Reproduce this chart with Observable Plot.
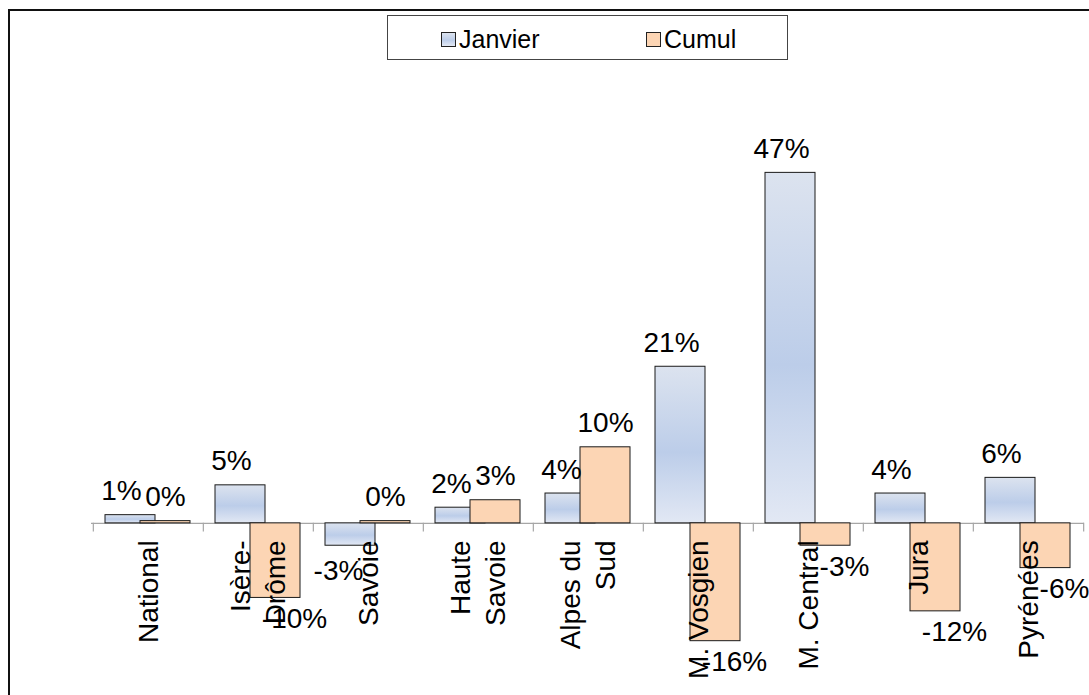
<!DOCTYPE html>
<html>
<head>
<meta charset="utf-8">
<script src="https://cdn.jsdelivr.net/npm/d3@7"></script>
<script src="https://cdn.jsdelivr.net/npm/@observablehq/plot@0.6"></script>
<style>
  html, body { margin: 0; padding: 0; background: #fff; width: 1089px; height: 695px; overflow: hidden; }
  #wrap { position: relative; width: 1089px; height: 695px; font-family: "Liberation Sans", Arial, sans-serif; }
  #chart { position: absolute; left: 0; top: 0; }
  #frame { position: absolute; left: 8px; top: 9px; width: 1200px; height: 800px; border-top: 2px solid #111; border-left: 2px solid #111; pointer-events: none; }
  #legend { position: absolute; left: 387px; top: 15px; width: 399px; height: 43px; border: 1px solid #444; background: #fff; }
  .sw { position: absolute; top: 16px; width: 13px; height: 13px; border: 1px solid #222; }
  .lt { position: absolute; top: 9px; font-size: 25px; line-height: 28px; color: #000; }
</style>
</head>
<body>
<div id="wrap">
  <div id="chart"></div>
  <div id="frame"></div>
  <div id="legend">
    <div class="sw" style="left:53px;background:linear-gradient(#dce3ef,#bccde9 55%,#e2e8f4);"></div>
    <div class="lt" style="left:71px;">Janvier</div>
    <div class="sw" style="left:258px;background:#fcd5b4;"></div>
    <div class="lt" style="left:276px;">Cumul</div>
  </div>
</div>
<script>
const categories = ["National", "Isère-Drôme", "Savoie", "Haute Savoie", "Alpes du Sud", "M. Vosgien", "M. Central", "Jura", "Pyrénées"];
const categoryLabels = ["National", "Isère-\nDrôme", "Savoie", "Haute\nSavoie", "Alpes du\nSud", "M. Vosgien", "M. Central", "Jura", "Pyrénées"];
const seriesNames = ["Janvier", "Cumul"];
const janvier = [1.1, 5.1, -3.0, 2.1, 4.0, 21.0, 47.0, 4.0, 6.1];
const cumul = [0.3, -10.0, 0.3, 3.1, 10.2, -15.8, -3.0, -11.8, -6.0];

const jRows = categories.map((c, i) => ({cat: c, series: seriesNames[0], value: janvier[i]}));
const cRows = categories.map((c, i) => ({cat: c, series: seriesNames[1], value: cumul[i]}));
const fmt = d => Math.round(d.value) + "%";

const FONT = "'Liberation Sans', Arial, sans-serif";
const half = (1089 - 91 - 5) / categories.length / 2;

const plot = Plot.plot({
  width: 1089,
  height: 695,
  marginLeft: 91,
  marginRight: 5,
  marginTop: 150,
  marginBottom: 23,
  x: {domain: categories, padding: 0, axis: null},
  y: {domain: [-20, 50], axis: null},
  style: {fontFamily: FONT, background: "transparent", overflow: "visible", color: "#000"},
  marks: [
    Plot.ruleY([0], {stroke: "#a6a6a6", strokeWidth: 1.2}),
    Plot.ruleX(categories, {x: d => d, dx: -half, y1: 0, y2: -1.15, stroke: "#a6a6a6", strokeWidth: 1.2}),
    Plot.ruleX([categories[categories.length - 1]], {x: d => d, dx: half, y1: 0, y2: -1.15, stroke: "#a6a6a6", strokeWidth: 1.2}),
    Plot.barY(jRows, {x: "cat", y: "value", fill: "url(#janvGrad)", stroke: "#1a1a1a", strokeWidth: 1, insetLeft: 12, insetRight: 48}),
    Plot.barY(cRows, {x: "cat", y: "value", fill: "#fcd5b4", stroke: "#1a1a1a", strokeWidth: 1, insetLeft: 47, insetRight: 13}),
    Plot.text(jRows.filter(d => d.value >= 0), {x: "cat", y: "value", text: fmt, dx: -27, dy: -15, lineAnchor: "bottom", fontSize: 28, fill: "#000"}),
    Plot.text(cRows.filter(d => d.value >= 0), {x: "cat", y: "value", text: fmt, dx: 17, dy: -15, lineAnchor: "bottom", fontSize: 28, fill: "#000"}),
    Plot.text(jRows.filter(d => d.value < 0), {x: "cat", y: "value", text: fmt, dx: -30, dy: 14, lineAnchor: "top", fontSize: 28, fill: "#000"}),
    Plot.text(cRows.filter(d => d.value < 0), {x: "cat", y: "value", text: fmt, dx: 36, dy: 10, lineAnchor: "top", fontSize: 28, fill: "#000"}),
    Plot.text(categories, {x: d => d, y: () => 0, text: (d, i) => categoryLabels[i], rotate: -90, textAnchor: "end", lineAnchor: "middle", lineHeight: 1.25, dy: 17, dx: -2, fontSize: 28, fill: "#000"})
  ]
});

const svg = d3.select(plot);
const defs = svg.insert("defs", ":first-child");
const grad = defs.append("linearGradient").attr("id", "janvGrad").attr("x1", 0).attr("y1", 0).attr("x2", 0).attr("y2", 1);
grad.append("stop").attr("offset", "0%").attr("stop-color", "#dce3ef");
grad.append("stop").attr("offset", "55%").attr("stop-color", "#bccde9");
grad.append("stop").attr("offset", "100%").attr("stop-color", "#e2e8f4");

document.getElementById("chart").appendChild(plot);
</script>
</body>
</html>
